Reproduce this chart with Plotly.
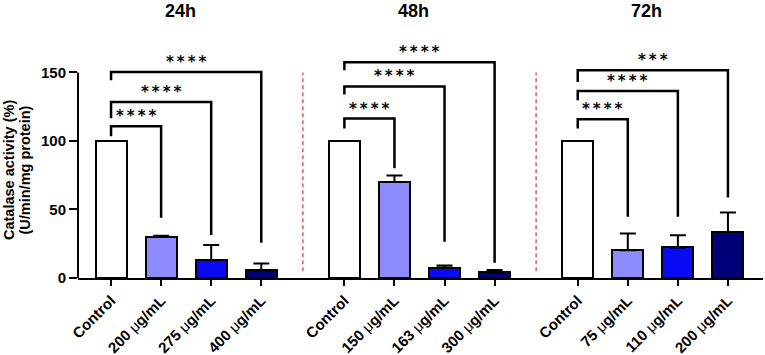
import plotly.graph_objects as go

# ---------------- data ----------------
groups = ["24h", "48h", "72h"]
labels_24h = ["Control", "200 μg/mL", "275 μg/mL", "400 μg/mL"]
labels_48h = ["Control", "150 μg/mL", "163 μg/mL", "300 μg/mL"]
labels_72h = ["Control", "75 μg/mL", "110 μg/mL", "200 μg/mL"]
means_24h = [100, 30.0, 13.0, 5.5]
means_48h = [100, 70.0, 7.5, 4.1]
means_72h = [100, 20.2, 22.3, 33.5]
err_24h = [0, 0.8, 11.0, 5.0]
err_48h = [0, 4.8, 1.7, 1.7]
err_72h = [0, 12.3, 8.8, 14.3]

# significance brackets: (compared bar index, bracket level, left-leg end, right-leg end, label)
sig_24h = [(1, 110.7, 103.4, 43.9, "****"), (2, 128.4, 116.5, 31.3, "****"), (3, 150.3, 144.2, 25.7, "****")]
sig_48h = [(1, 116.3, 109.0, 80.0, "****"), (2, 139.8, 133.8, 26.5, "****"), (3, 157.5, 151.5, 11.2, "****")]
sig_72h = [(1, 115.8, 109.0, 44.6, "****"), (2, 136.4, 129.6, 44.6, "****"), (3, 151.5, 143.0, 58.8, "***")]

y_ticks = [0, 50, 100, 150]
y_title_lines = ["Catalase activity (%)", "(U/min/mg protein)"]

labels = [labels_24h, labels_48h, labels_72h]
means = [means_24h, means_48h, means_72h]
errs = [err_24h, err_48h, err_72h]
sigs = [sig_24h, sig_48h, sig_72h]

# ---------------- style ----------------
FONT = "Liberation Sans, Arial, sans-serif"
STAR_FONT = "DejaVu Sans, sans-serif"
fill_colors = ["#FFFFFF", "#8C8CFF", "#0A0AF5", "#000078"]
GAP = 0.66          # extra space between groups (in category units)
step = len(labels_24h) + GAP
L, R, T, B = 78, 2, 45, 77
W, H = 765, 355
pw, ph = W - L - R, H - T - B

fig = go.Figure()
tickvals, ticktext = [], []
for g in range(len(groups)):
    xs = [g * step + i for i in range(len(labels[g]))]
    tickvals += xs
    ticktext += [t.replace("μ", "<span style='font-weight:normal'>μ</span>") for t in labels[g]]
    fig.add_trace(go.Bar(
        x=xs, y=means[g], width=0.62,
        marker=dict(color=fill_colors, line=dict(color="black", width=2)),
        error_y=dict(type="data", symmetric=False, array=errs[g],
                     arrayminus=[0] * len(errs[g]), color="black",
                     thickness=2, width=8),
        showlegend=False, hoverinfo="skip"))

shapes = []
annotations = []
for g in range(len(groups)):
    x0 = g * step
    for (j, h, yl, yr, lab) in sigs[g]:
        x1 = g * step + j
        shapes.append(dict(type="path", xref="x", yref="y",
                           path=f"M {x0},{yl} L {x0},{h} L {x1},{h} L {x1},{yr}",
                           line=dict(color="black", width=2.5)))
        annotations.append(dict(x=(x0 + x1) / 2, y=h, xref="x", yref="y",
                                text="\u2009".join(lab), showarrow=False,
                                yanchor="middle", yshift=10,
                                font=dict(family=STAR_FONT, size=15, color="black", weight="bold")))
    annotations.append(dict(x=x0 + 1.5 - 0.12, y=(H - B - 10.5) / ph, xref="x", yref="paper",
                            text=groups[g], showarrow=False, yanchor="middle",
                            font=dict(family=FONT, size=18, color="black", weight="bold")))

# red dashed separators
for g in range(1, len(groups)):
    xs = g * step - (GAP + 1) / 2
    shapes.append(dict(type="line", xref="x", yref="y", x0=xs, x1=xs, y0=5, y1=150,
                       line=dict(color="#E8707A", width=1.8, dash="4px,3px")))

# y axis line (only 0..150)
shapes.append(dict(type="line", xref="paper", yref="y", x0=0, x1=0, y0=0, y1=150,
                   line=dict(color="black", width=2)))

# y-axis title, two lines placed in pixel space
for text, xpx in zip(y_title_lines, [9, 24.5]):
    annotations.append(dict(x=(xpx - L) / pw, y=(H - B - 170) / ph, xref="paper", yref="paper",
                            text=text, textangle=-90, showarrow=False, borderpad=0,
                            xanchor="center", yanchor="middle",
                            font=dict(family=FONT, size=14.5, color="black", weight="bold")))

fig.update_layout(
    width=W, height=H,
    margin=dict(l=L, r=R, t=T, b=B, autoexpand=False),
    plot_bgcolor="white", paper_bgcolor="white",
    bargap=0,
    xaxis=dict(range=[-0.66, 2 * step + 3 + 0.70], tickvals=tickvals, ticktext=ticktext,
               tickangle=-45, showline=True, linecolor="black", linewidth=2,
               ticks="outside", ticklen=6, tickwidth=2, tickcolor="black",
               showgrid=False, zeroline=False, automargin=False,
               tickfont=dict(family=FONT, size=15, color="black", weight="bold")),
    yaxis=dict(range=[0, 170], tickvals=y_ticks, showline=False,
               ticks="outside", ticklen=8, tickwidth=2, tickcolor="black",
               showgrid=False, zeroline=False, automargin=False,
               tickfont=dict(family=FONT, size=15, color="black", weight="bold")),
    shapes=shapes,
    annotations=annotations,
)

fig.write_html("out.html")
